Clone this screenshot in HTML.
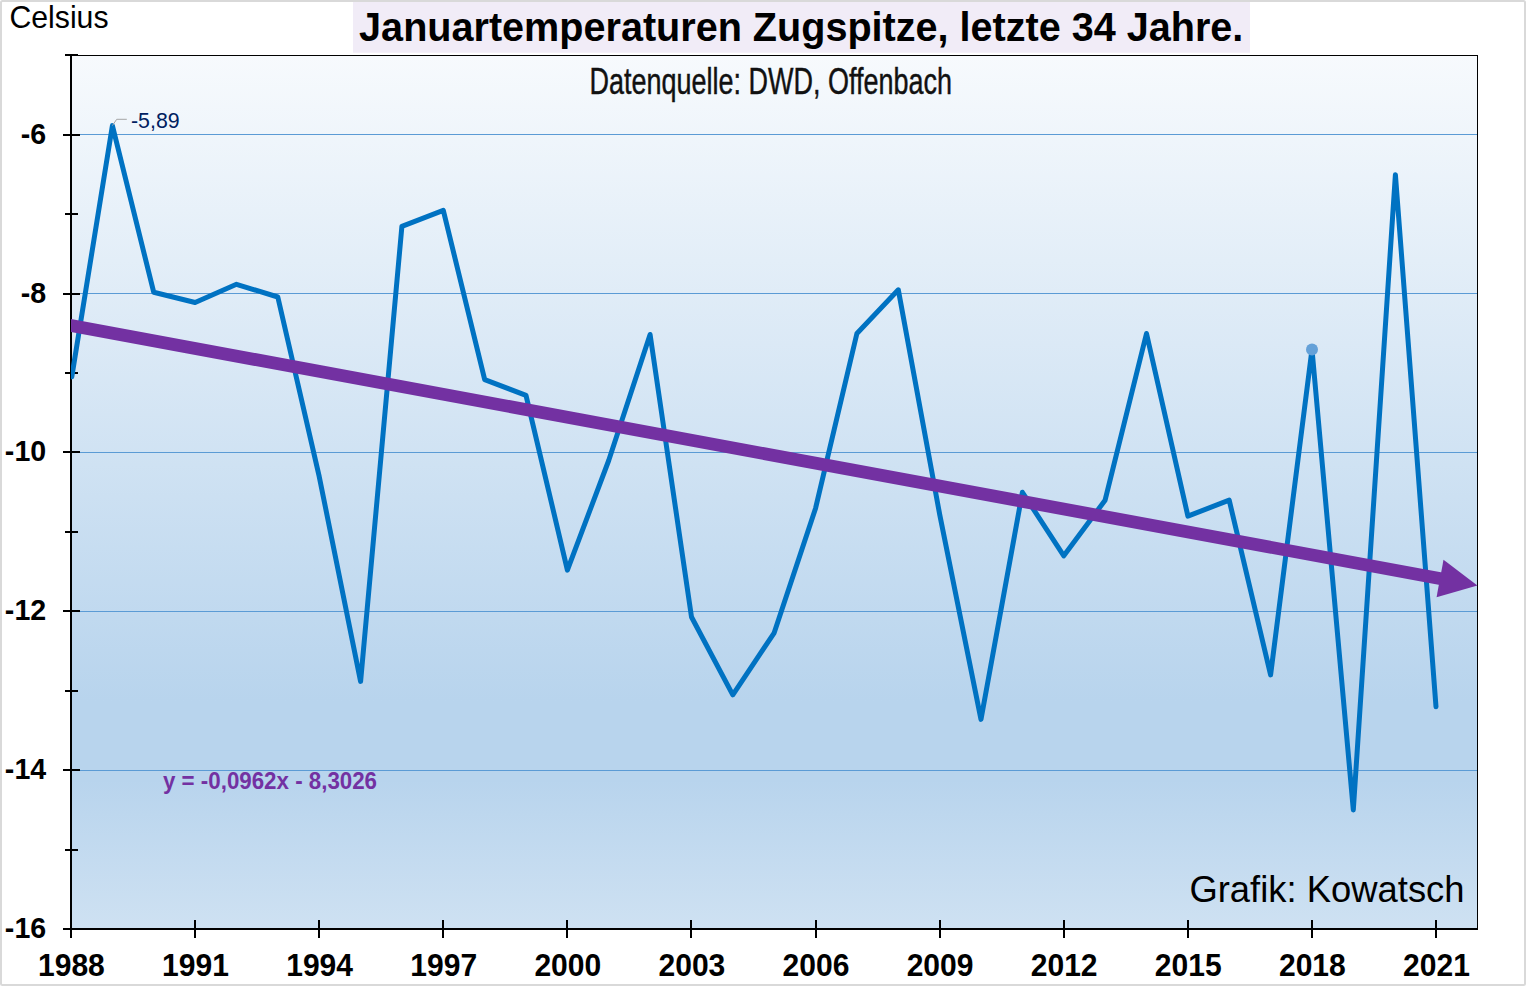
<!DOCTYPE html>
<html lang="de"><head><meta charset="utf-8"><title>Januartemperaturen Zugspitze</title>
<style>html,body{margin:0;padding:0;background:#fff;}body{width:1526px;height:986px;overflow:hidden;}svg{display:block;}</style>
</head><body>
<svg width="1526" height="986" viewBox="0 0 1526 986">
<defs><linearGradient id="g" x1="0" y1="0" x2="0" y2="1"><stop offset="0" stop-color="#F7FAFD"/><stop offset="0.74" stop-color="#B8D4ED"/><stop offset="0.83" stop-color="#B8D4ED"/><stop offset="1" stop-color="#CEE1F2"/></linearGradient></defs>
<rect x="0" y="0" width="1526" height="986" fill="#ffffff"/>
<rect x="1" y="1" width="1524" height="984" rx="1.5" fill="none" stroke="#D9D9D9" stroke-width="2"/>
<rect x="353" y="2" width="897" height="50.7" fill="#F1ECF7"/>
<rect x="72" y="56" width="1405" height="872" fill="url(#g)"/>
<rect x="72" y="134" width="1405" height="1" fill="#5B9BD5"/>
<rect x="72" y="293" width="1405" height="1" fill="#5B9BD5"/>
<rect x="72" y="452" width="1405" height="1" fill="#5B9BD5"/>
<rect x="72" y="611" width="1405" height="1" fill="#5B9BD5"/>
<rect x="72" y="770" width="1405" height="1" fill="#5B9BD5"/>
<rect x="72" y="55" width="1406" height="1" fill="#000"/>
<rect x="1477" y="55" width="1" height="875" fill="#000"/>
<rect x="70" y="54" width="2" height="884" fill="#000"/>
<rect x="63" y="928" width="1415" height="2" fill="#000"/>
<rect x="65" y="54" width="13" height="2" fill="#000"/>
<rect x="63" y="134" width="17" height="2" fill="#000"/>
<rect x="65" y="213" width="13" height="2" fill="#000"/>
<rect x="63" y="293" width="17" height="2" fill="#000"/>
<rect x="65" y="372" width="13" height="2" fill="#000"/>
<rect x="63" y="451" width="17" height="2" fill="#000"/>
<rect x="65" y="531" width="13" height="2" fill="#000"/>
<rect x="63" y="610" width="17" height="2" fill="#000"/>
<rect x="65" y="690" width="13" height="2" fill="#000"/>
<rect x="63" y="769" width="17" height="2" fill="#000"/>
<rect x="65" y="849" width="13" height="2" fill="#000"/>
<rect x="194" y="920" width="2" height="18" fill="#000"/>
<rect x="318" y="920" width="2" height="18" fill="#000"/>
<rect x="442" y="920" width="2" height="18" fill="#000"/>
<rect x="566" y="920" width="2" height="18" fill="#000"/>
<rect x="690" y="920" width="2" height="18" fill="#000"/>
<rect x="815" y="920" width="2" height="18" fill="#000"/>
<rect x="939" y="920" width="2" height="18" fill="#000"/>
<rect x="1063" y="920" width="2" height="18" fill="#000"/>
<rect x="1187" y="920" width="2" height="18" fill="#000"/>
<rect x="1311" y="920" width="2" height="18" fill="#000"/>
<rect x="1435" y="920" width="2" height="18" fill="#000"/>
<clipPath id="pc"><rect x="71" y="56" width="1408" height="873"/></clipPath>
<g clip-path="url(#pc)">
<polyline points="71.8,376.8 112.4,125.6 153.7,292.2 195.1,302.5 236.5,284.3 277.8,297.0 319.2,476.4 360.6,681.4 401.9,226.3 443.3,210.4 484.7,379.6 526.0,395.4 567.4,570.1 608.7,460.5 650.1,334.5 691.5,617.0 732.8,694.8 774.2,632.8 815.6,508.2 856.9,333.5 898.3,289.8 939.7,514.5 981.0,719.4 1022.4,492.3 1063.8,555.8 1105.1,500.2 1146.5,333.5 1187.9,516.1 1229.2,500.2 1270.6,674.9 1312.0,349.4 1353.3,809.9 1395.4,174.7 1436.0,706.7" fill="none" stroke="#0072C2" stroke-width="5" stroke-linejoin="round" stroke-linecap="round"/>
<circle cx="1312.0" cy="349.4" r="6" fill="#65A1D8"/>
<line x1="66.08" y1="324.56" x2="1441.02" y2="578.77" stroke="#7331A2" stroke-width="12.7"/>
<polygon points="1477.40,585.50 1436.56,597.37 1443.51,559.81" fill="#7331A2"/>
</g>
<polyline points="112.4,125.6 116.7,119.3 126.8,119.3" fill="none" stroke="#A6A6A6" stroke-width="1"/>
<text transform="translate(359.10,41.20) scale(0.9540,1)" font-family="'Liberation Sans', sans-serif" font-size="41.5" font-weight="bold" fill="#000">Januartemperaturen Zugspitze, letzte 34 Jahre.</text>
<text transform="translate(9.40,27.90) scale(0.9820,1)" font-family="'Liberation Sans', sans-serif" font-size="30.8" fill="#000">Celsius</text>
<text transform="translate(1189.40,901.70) scale(1.0060,1)" font-family="'Liberation Sans', sans-serif" font-size="36.2" fill="#000">Grafik: Kowatsch</text>
<text transform="translate(589.60,94.30) scale(0.7295,1)" font-family="'Liberation Sans', sans-serif" font-size="37.0" stroke="#111" stroke-width="0.45" fill="#111">Datenquelle: DWD, Offenbach</text>
<text transform="translate(131.00,128.00) scale(0.9920,1)" font-family="'Liberation Sans', sans-serif" font-size="21.5" fill="#002060">-5,89</text>
<text transform="translate(163.00,788.60) scale(0.9540,1)" font-family="'Liberation Sans', sans-serif" font-size="23.4" font-weight="bold" fill="#7331A2">y = -0,0962x - 8,3026</text>
<text transform="translate(46.20,143.80) scale(0.9660,1)" font-family="'Liberation Sans', sans-serif" font-size="29.6" font-weight="bold" text-anchor="end" fill="#000">-6</text>
<text transform="translate(46.20,302.60) scale(0.9660,1)" font-family="'Liberation Sans', sans-serif" font-size="29.6" font-weight="bold" text-anchor="end" fill="#000">-8</text>
<text transform="translate(46.20,461.40) scale(0.9660,1)" font-family="'Liberation Sans', sans-serif" font-size="29.6" font-weight="bold" text-anchor="end" fill="#000">-10</text>
<text transform="translate(46.20,620.20) scale(0.9660,1)" font-family="'Liberation Sans', sans-serif" font-size="29.6" font-weight="bold" text-anchor="end" fill="#000">-12</text>
<text transform="translate(46.20,779.00) scale(0.9660,1)" font-family="'Liberation Sans', sans-serif" font-size="29.6" font-weight="bold" text-anchor="end" fill="#000">-14</text>
<text transform="translate(46.20,937.80) scale(0.9660,1)" font-family="'Liberation Sans', sans-serif" font-size="29.6" font-weight="bold" text-anchor="end" fill="#000">-16</text>
<text transform="translate(71.40,975.70) scale(0.9630,1)" font-family="'Liberation Sans', sans-serif" font-size="31.2" font-weight="bold" text-anchor="middle" fill="#000">1988</text>
<text transform="translate(195.50,975.70) scale(0.9630,1)" font-family="'Liberation Sans', sans-serif" font-size="31.2" font-weight="bold" text-anchor="middle" fill="#000">1991</text>
<text transform="translate(319.59,975.70) scale(0.9630,1)" font-family="'Liberation Sans', sans-serif" font-size="31.2" font-weight="bold" text-anchor="middle" fill="#000">1994</text>
<text transform="translate(443.69,975.70) scale(0.9630,1)" font-family="'Liberation Sans', sans-serif" font-size="31.2" font-weight="bold" text-anchor="middle" fill="#000">1997</text>
<text transform="translate(567.78,975.70) scale(0.9630,1)" font-family="'Liberation Sans', sans-serif" font-size="31.2" font-weight="bold" text-anchor="middle" fill="#000">2000</text>
<text transform="translate(691.88,975.70) scale(0.9630,1)" font-family="'Liberation Sans', sans-serif" font-size="31.2" font-weight="bold" text-anchor="middle" fill="#000">2003</text>
<text transform="translate(815.97,975.70) scale(0.9630,1)" font-family="'Liberation Sans', sans-serif" font-size="31.2" font-weight="bold" text-anchor="middle" fill="#000">2006</text>
<text transform="translate(940.07,975.70) scale(0.9630,1)" font-family="'Liberation Sans', sans-serif" font-size="31.2" font-weight="bold" text-anchor="middle" fill="#000">2009</text>
<text transform="translate(1064.16,975.70) scale(0.9630,1)" font-family="'Liberation Sans', sans-serif" font-size="31.2" font-weight="bold" text-anchor="middle" fill="#000">2012</text>
<text transform="translate(1188.26,975.70) scale(0.9630,1)" font-family="'Liberation Sans', sans-serif" font-size="31.2" font-weight="bold" text-anchor="middle" fill="#000">2015</text>
<text transform="translate(1312.35,975.70) scale(0.9630,1)" font-family="'Liberation Sans', sans-serif" font-size="31.2" font-weight="bold" text-anchor="middle" fill="#000">2018</text>
<text transform="translate(1436.45,975.70) scale(0.9630,1)" font-family="'Liberation Sans', sans-serif" font-size="31.2" font-weight="bold" text-anchor="middle" fill="#000">2021</text>
</svg>
</body></html>
